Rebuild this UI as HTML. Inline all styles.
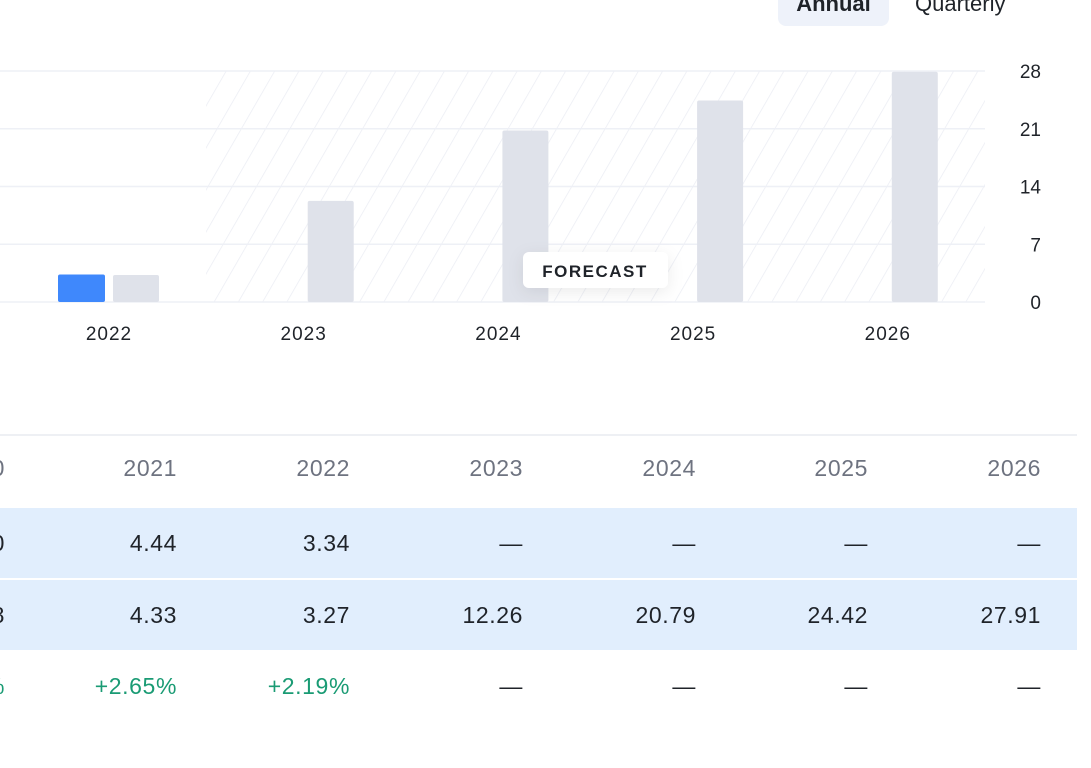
<!DOCTYPE html>
<html><head><meta charset="utf-8"><style>
html,body{margin:0;width:1091px;height:768px;overflow:hidden;background:#fff;font-family:"Liberation Sans",sans-serif;position:relative}
.tog{position:absolute;top:-14px;height:40px;font-size:22px;font-weight:bold;line-height:36px;color:#1f2329}
#annual{left:778px;width:111px;background:#eef2fa;border-radius:8px;text-align:center}
#quarterly{left:915px;font-weight:normal}
.row{position:absolute;left:0;width:1077px;height:70px;overflow:hidden}
.cell{position:absolute;width:150px;text-align:right;font-size:23px;letter-spacing:0.6px;line-height:70px;color:#1f2329}
</style></head><body>
<div id="annual" class="tog">Annual</div>
<div id="quarterly" class="tog">Quarterly</div>
<svg id="chart" width="1091" height="360" style="position:absolute;left:0;top:0">
<defs><pattern id="hatch" width="21" height="21" patternUnits="userSpaceOnUse" patternTransform="rotate(30)"><line x1="0" y1="0" x2="0" y2="21" stroke="#ebedf4" stroke-width="1.5"/></pattern>
<filter id="sh" x="-50%" y="-50%" width="200%" height="200%"><feDropShadow dx="0" dy="4" stdDeviation="8" flood-color="#000" flood-opacity="0.08"/></filter></defs>
</svg>
<div style="position:absolute;left:0;top:434px;width:1077px;height:2px;background:#eef0f4"></div>
<div id="table"></div>
<script>
const years=["2022","2023","2024","2025","2026"];
const actual=[3.34,null,null,null,null];
const estimate=[3.27,12.26,20.79,24.42,27.91];
const yTicks=[0,7,14,21,28];
const tableYears=["2020","2021","2022","2023","2024","2025","2026"];
const rowActual=["3.50","4.44","3.34","—","—","—","—"];
const rowEst=["3.38","4.33","3.27","12.26","20.79","24.42","27.91"];
const rowSurprise=["+3.55%","+2.65%","+2.19%","—","—","—","—"];
const NS="http://www.w3.org/2000/svg";
const svg=document.getElementById('chart');
const y=v=>302-v*(231/28);
const xc=i=>109+i*194.7;
function mk(t,a){const e=document.createElementNS(NS,t);for(const k in a)e.setAttribute(k,a[k]);svg.appendChild(e);return e;}
let h=mk('rect',{x:206,y:71,width:779,height:231,fill:'url(#hatch)'});


yTicks.forEach(t=>{
 let l=mk('line',{x1:0,x2:985,y1:y(t),y2:y(t),stroke:'#eef0f6','stroke-width':1.5});
 
 
 let tx=mk('text',{x:1041,y:y(t)+7,'text-anchor':'end','font-size':19,fill:'#1f2329'});tx.textContent=t;
 
 
});
years.forEach((yr,i)=>{
 const c=xc(i);
 if(actual[i]!=null){let b=mk('rect',{x:c-51,y:y(actual[i]),width:47,height:302-y(actual[i]),fill:'#3f88fc',rx:2});
  
  }
 let g=mk('rect',{x:c+4,y:y(estimate[i]),width:46,height:302-y(estimate[i]),fill:'#dfe2ea',rx:2});
 
 
 let t=mk('text',{x:c,y:340,'text-anchor':'middle','font-size':19,fill:'#1f2329','letter-spacing':1});t.textContent=yr;
 
 
});
let fb=mk('rect',{x:523,y:252,width:145,height:36,rx:6,fill:'#fff',filter:'url(#sh)'});


let ft=mk('text',{x:595,y:277,'text-anchor':'middle','font-size':17,'font-weight':'bold',fill:'#1f2329','letter-spacing':1.5});ft.textContent='FORECAST';



const tbl=document.getElementById('table');
const rights=[5,177,350,523,696,868,1041];
function row(top,vals,bg,color,name){
 const r=document.createElement('div');r.className='row';r.style.top=top+'px';if(bg)r.style.background=bg;
 
 
 vals.forEach((v,i)=>{const c=document.createElement('div');c.className='cell';c.style.left=(rights[i]-150)+'px';c.style.color=color;c.textContent=v;
  
  
  r.appendChild(c);});
 tbl.appendChild(r);
}
row(433,tableYears,null,'#6e7380','header-row');
row(508,rowActual,'#e1eefd','#1f2329','actual-row');
row(580,rowEst,'#e1eefd','#1f2329','estimate-row');
row(651,rowSurprise,null,'#1a9b74','surprise-row');
document.querySelectorAll('#table .row')[3].querySelectorAll('.cell').forEach((c,i)=>{if(i>2)c.style.color='#1f2329';});
</script>
</body></html>
